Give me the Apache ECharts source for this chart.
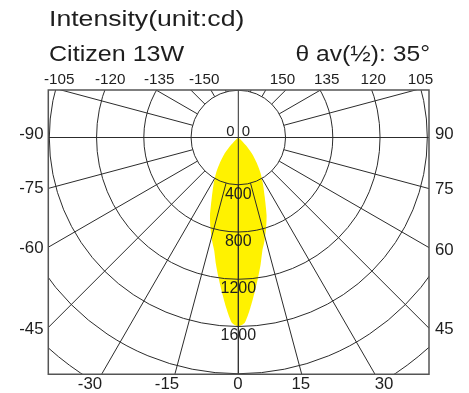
<!DOCTYPE html>
<html><head><meta charset="utf-8">
<script src="https://cdn.jsdelivr.net/npm/echarts@6/dist/echarts.min.js"></script>
<style>html,body{margin:0;padding:0;background:#fff}#c{width:469px;height:393px}</style>
</head><body><div id="c"></div>
<script>
// ---------- data ----------
const titleText = 'Intensity(unit:cd)';
const lampName = 'Citizen 13W';
const beamText = 'θ av(½): 35°';
const ringValues = [400, 800, 1200, 1600];          // labelled rings (cd)
const gridMin = 400, gridMax = 2400, gridStep = 400; // ring grid (cd)
const angleStep = 15;                                 // spoke spacing (deg)
const topLabels = ['-105', '-120', '-135', '-150', '150', '135', '120', '105'];
const leftLabels = ['-90', '-75', '-60', '-45'];
const rightLabels = ['90', '75', '60', '45'];
const bottomLabels = ['-30', '-15', '0', '15', '30'];
const centerLabels = ['0', '0'];
const beamAngles = [0, 2, 4, 6, 8, 10, 12, 14, 17, 20, 24, 28, 32, 36, 40, 44, 48, 52];
const beamIntensity = [1600, 1570, 1450, 1320, 1200, 1090, 980, 910, 805, 700, 550, 445, 355, 265, 185, 95, 25, 0];

// ---------- layout ----------
const CX = 238.3, CY = 137.5, PX_PER_CD = 47.25 / 400;
const FX = 48.3, FY = 90, FR = 429, FB = 374.3;
const topLabelX = [59.2, 110.2, 159.2, 204.2, 282.5, 326.7, 373.3, 420.5], topLabelY = 80;
const leftLabelY = [135, 189, 249, 330], leftLabelRight = 43.5;
const rightLabelY = [135, 189.5, 251, 330], rightLabelLeft = 435;
const bottomLabelX = [90, 167, 238, 300.8, 384], bottomLabelY = 385;
const LINE = '#2c2c2c', TEXT = '#1e1e1e', FILL = '#fff200';
const FONT = '"Liberation Sans", Arial, sans-serif';

const beamData = [];
for (let i = beamAngles.length - 1; i > 0; i--) beamData.push([beamIntensity[i], 360 - beamAngles[i]]);
for (let i = 0; i < beamAngles.length; i++) beamData.push([beamIntensity[i], beamAngles[i]]);

function txt(text, x, y, size, align, scaleX) {
  return { type: 'text', x: x, y: y, scaleX: scaleX || 1, z: 20,
    style: { text: text, font: size + 'px ' + FONT, fill: TEXT,
      align: align, textAlign: align, verticalAlign: 'middle', textVerticalAlign: 'middle' } };
}

const graphics = [
  { type: 'rect', z: 10, shape: { x: 0, y: 0, width: 469, height: FY }, style: { fill: '#fff' } },
  { type: 'rect', z: 10, shape: { x: 0, y: FB, width: 469, height: 393 - FB }, style: { fill: '#fff' } },
  { type: 'rect', z: 10, shape: { x: 0, y: 0, width: FX, height: 393 }, style: { fill: '#fff' } },
  { type: 'rect', z: 10, shape: { x: FR, y: 0, width: 469 - FR, height: 393 }, style: { fill: '#fff' } },
  { type: 'rect', z: 15, shape: { x: FX, y: FY, width: FR - FX, height: FB - FY },
    style: { fill: null, stroke: '#555', lineWidth: 1.5 } },
  txt(titleText, 49, 20, 22, 'left', 1.21),
  txt(lampName, 49, 54.5, 22, 'left', 1.14),
  txt(beamText, 430, 54.5, 22, 'right', 1.12),
  txt(centerLabels[0], CX - 8, CY - 5.5, 15, 'center', 1),
  txt(centerLabels[1], CX + 7.5, CY - 5.5, 15, 'center', 1)
];
topLabels.forEach((t, i) => graphics.push(txt(t, topLabelX[i], topLabelY, 14.5, 'center', 1.05)));
leftLabels.forEach((t, i) => graphics.push(txt(t, leftLabelRight, leftLabelY[i], 16, 'right', 1.05)));
rightLabels.forEach((t, i) => graphics.push(txt(t, rightLabelLeft, rightLabelY[i], 16, 'left', 1.05)));
bottomLabels.forEach((t, i) => graphics.push(txt(t, bottomLabelX[i], bottomLabelY, 16, 'center', 1.05)));

const hidden = { show: false };
const chart = echarts.init(document.getElementById('c'));
chart.setOption({
  animation: false,
  backgroundColor: '#fff',
  polar: [
    { center: [CX, CY], radius: [gridMin * PX_PER_CD, gridMax * PX_PER_CD] },
    { center: [CX, CY], radius: [0, gridMax * PX_PER_CD] }
  ],
  angleAxis: [
    { polarIndex: 0, type: 'value', min: 0, max: 360, interval: angleStep, startAngle: 270, clockwise: false,
      axisLine: hidden, axisTick: hidden, axisLabel: hidden, z: 5,
      splitLine: { show: true, lineStyle: { color: LINE, width: 1 } } },
    { polarIndex: 1, type: 'value', min: 0, max: 360, interval: 90, startAngle: 270, clockwise: false,
      axisLine: hidden, axisTick: hidden, axisLabel: hidden, z: 5,
      splitLine: { show: true, lineStyle: { color: LINE, width: 1 } } }
  ],
  radiusAxis: [
    { polarIndex: 0, type: 'value', min: gridMin, max: gridMax, interval: gridStep,
      axisLine: hidden, axisTick: hidden, axisLabel: hidden, z: 5,
      splitLine: { show: true, lineStyle: { color: LINE, width: 1 } } },
    { polarIndex: 1, type: 'value', min: 0, max: gridMax, interval: gridStep,
      axisLine: hidden, axisTick: hidden, axisLabel: hidden, splitLine: hidden, z: 5 }
  ],
  graphic: { elements: graphics },
  series: [
    { type: 'custom', coordinateSystem: 'polar', polarIndex: 1, z: 2, silent: true,
      data: beamData,
      renderItem: function (params, api) {
        if (params.dataIndex !== 0) return null;
        const pts = [];
        for (let i = 0; i < beamData.length; i++) pts.push(api.coord([api.value(0, i), api.value(1, i)]));
        return { type: 'polygon', shape: { points: pts, smooth: 0.2 }, style: { fill: FILL, stroke: null } };
      } },
    { type: 'custom', coordinateSystem: 'polar', polarIndex: 1, z: 8, silent: true,
      data: ringValues.map(v => [v, 0]),
      renderItem: function (params, api) {
        const p = api.coord([api.value(0), api.value(1)]);
        return { type: 'text', x: p[0], y: p[1] + 9.5,
          style: { text: String(api.value(0)), font: '16px ' + FONT, fill: TEXT,
            align: 'center', textAlign: 'center', verticalAlign: 'middle', textVerticalAlign: 'middle' } };
      } }
  ]
});
</script></body></html>
